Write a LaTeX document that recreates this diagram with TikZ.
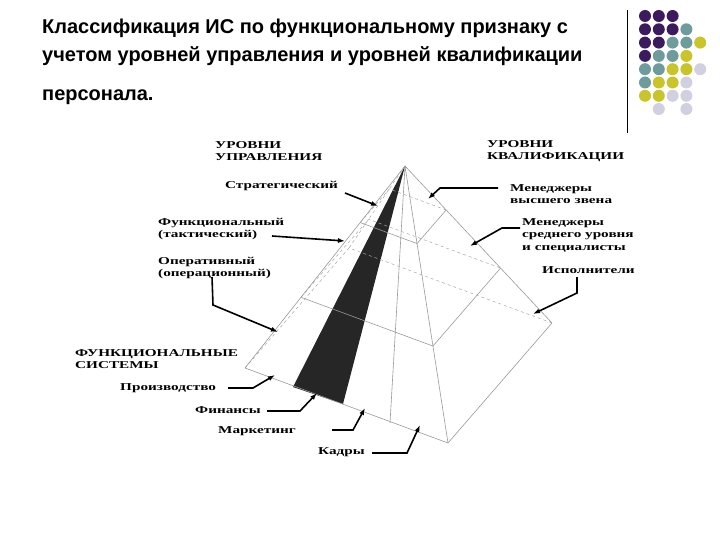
\documentclass[tikz,border=0pt]{standalone}
\usepackage{fontspec}
\usetikzlibrary{arrows.meta,calc}
\setmainfont{Liberation Serif}[FakeStretch=1.45]
\newfontfamily\titlefont{Liberation Sans}
\begin{document}
\begin{tikzpicture}[x=1pt,y=-1pt,
  lbl/.style={font=\bfseries\fontsize{10.5}{12.5}\selectfont, inner sep=0pt, anchor=west, align=left},
  arr/.style={-{Latex[length=7pt,width=5pt]}, line width=1.6pt},
  edge/.style={draw=gray!80, line width=0.6pt},
  hid/.style={draw=gray!70, dashed, line width=0.5pt},
  dot/.style={circle, inner sep=0pt, minimum size=12pt}]
\useasboundingbox (0,0) rectangle (720,540);
% title
\node[font=\titlefont\bfseries\fontsize{20}{28}\selectfont, anchor=west, align=left, inner sep=0pt] (title) at (42,42)
 {Классификация ИС по функциональному признаку с\\учетом уровней управления и уровней квалификации};
\node[font=\titlefont\bfseries\fontsize{20}{28}\selectfont, anchor=west, inner sep=0pt] (title2) at (42,97) {персонала.};
% dots
\colorlet{P}{rgb,255:red,60;green,26;blue,94}
\colorlet{T}{rgb,255:red,110;green,155;blue,155}
\colorlet{Y}{rgb,255:red,200;green,196;blue,42}
\colorlet{L}{rgb,255:red,208;green,208;blue,224}
\draw[line width=1pt] (627,10) -- (627,133);
\foreach \row/\cols [count=\r from 0] in {0/{P,P,P},1/{P,P,P,T},2/{P,P,T,T,Y},3/{P,T,T,Y},4/{T,T,Y,Y,L},5/{T,Y,Y,L},6/{Y,Y,L,L}}{
  \foreach \c [count=\i from 0] in \cols {
    \node[dot, fill=\c] (d\r\i) at (645+13.8*\i, 16+13.3*\r) {};
  }
}
\node[dot, fill=L] (d71) at (658.8,109) {};
\node[dot, fill=L] (d73) at (686.4,109) {};
% pyramid
\coordinate (A) at (405,166);
\coordinate (BL) at (245,368);
\coordinate (BF) at (448,443);
\coordinate (BR) at (552,323);
\coordinate (BB) at (349,248);
\coordinate (F1) at (293,387);
\coordinate (F2) at (343,404);
\coordinate (F3) at (390,423);
\fill[black!85] (A) -- (F1) -- (F2) -- cycle;
\foreach \f in {0.28,0.65,1}{
  \draw[hid] ($(A)!\f!(BL)$) -- ($(A)!\f!(BB)$) -- ($(A)!\f!(BR)$);
  \draw[edge] ($(A)!\f!(BL)$) -- ($(A)!\f!(BF)$) -- ($(A)!\f!(BR)$);
}
\draw[hid] (A) -- (BB);
\draw[edge] (A) -- (BL) (A) -- (BF) (A) -- (BR) (A) -- (F3);
% labels
\node[lbl] (ul) at (215,151) {УРОВНИ\\УПРАВЛЕНИЯ};
\node[lbl] (uk) at (487,151) {УРОВНИ\\КВАЛИФИКАЦИИ};
\node[lbl] (s) at (225,186) {Стратегический};
\node[lbl] (f) at (158,229) {Функциональный\\(тактический)};
\node[lbl] (o) at (158,268) {Оперативный\\(операционный)};
\node[lbl] (fs) at (75,359) {ФУНКЦИОНАЛЬНЫЕ\\СИСТЕМЫ};
\node[lbl] (pr) at (120,388) {Производство};
\node[lbl] (fi) at (195,410) {Финансы};
\node[lbl] (ma) at (218,431) {Маркетинг};
\node[lbl] (ka) at (318,452) {Кадры};
\node[lbl] (mv) at (510,194) {Менеджеры\\высшего звена};
\node[lbl] (ms) at (522,235) {Менеджеры\\среднего уровня\\и специалисты};
\node[lbl] (is) at (542,270) {Исполнители};
% arrows
\draw[arr] (345,193) -- (378,206);
\draw[arr] (272,236) -- (345,241);
\draw[arr] (212,277) -- (213,305) -- (278,332);
\draw[arr] (228,388) -- (253,388) -- (275,375);
\draw[arr] (267,411) -- (300,411) -- (317,393);
\draw[arr] (332,430) -- (353,430) -- (365,408);
\draw[arr] (372,453) -- (407,453) -- (420,425);
\draw[arr] (498,188) -- (440,188) -- (428,199);
\draw[arr] (520,228) -- (502,228) -- (470,246);
\draw[arr] (577,277) -- (577,293) -- (533,314);
\end{tikzpicture}
\end{document}
